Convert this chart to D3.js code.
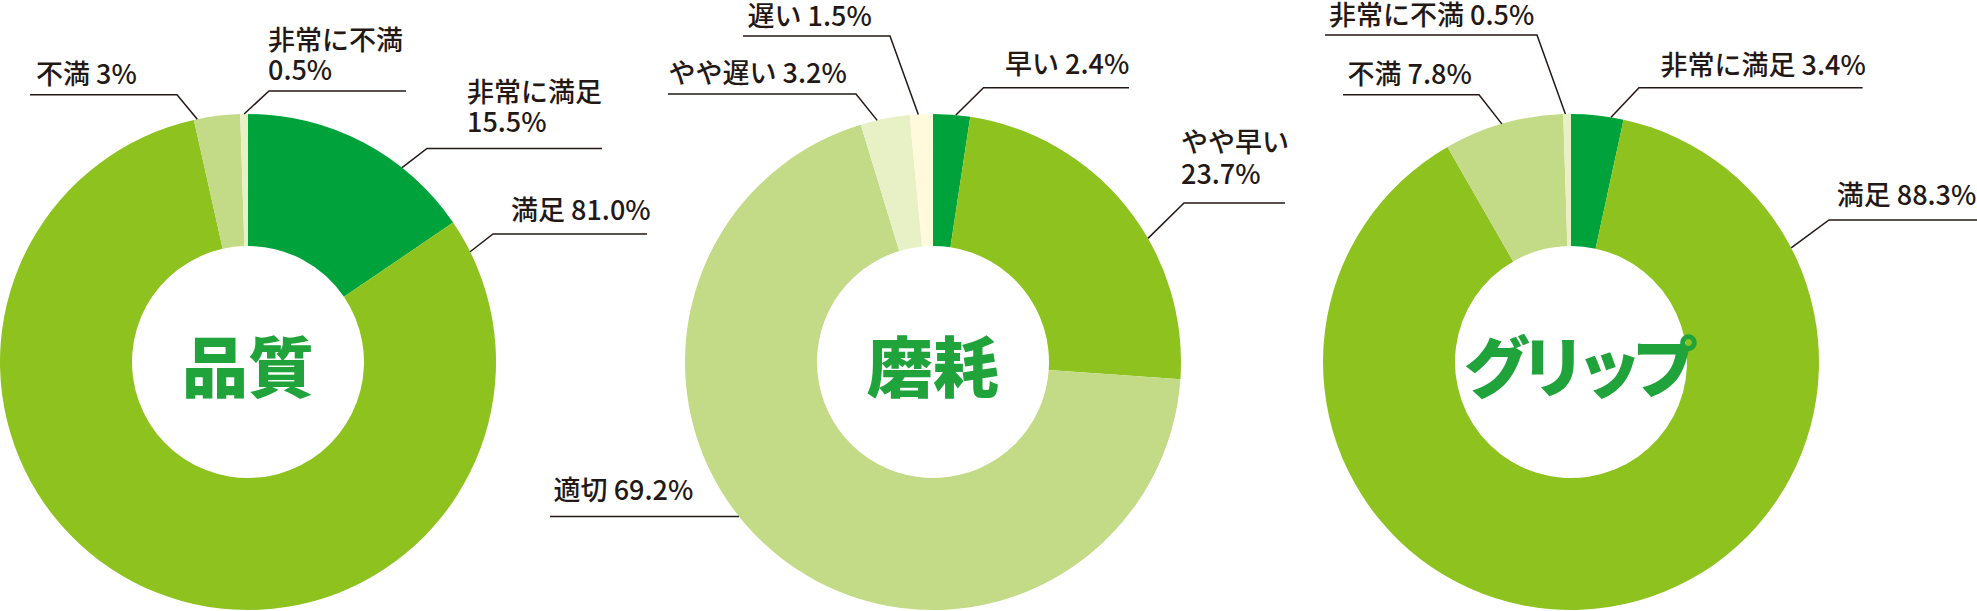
<!DOCTYPE html>
<html>
<head>
<meta charset="utf-8">
<script src="https://cdn.jsdelivr.net/npm/d3@7"></script>
<style>
  html, body { margin: 0; padding: 0; background: #fff; }
  text { font-family: "Noto Sans CJK JP", "Noto Sans", sans-serif; }
</style>
</head>
<body>
<div id="chart"></div>
<script>
// data
var titles = ["品質", "磨耗", "グリップ"];

var qualityNames = ["非常に満足", "満足", "不満", "非常に不満"];
var qualityValues = [15.5, 81.0, 3, 0.5];
var qualityLabels = ["15.5%", "81.0%", "3%", "0.5%"];

var wearNames = ["早い", "やや早い", "適切", "やや遅い", "遅い"];
var wearValues = [2.4, 23.7, 69.2, 3.2, 1.5];
var wearLabels = ["2.4%", "23.7%", "69.2%", "3.2%", "1.5%"];

var gripNames = ["非常に満足", "満足", "不満", "非常に不満"];
var gripValues = [3.4, 88.3, 7.8, 0.5];
var gripLabels = ["3.4%", "88.3%", "7.8%", "0.5%"];

// colours
var qualityColors = ["#00a33b", "#8dc21f", "#c3da86", "#e8f1c6"];
var wearColors = ["#00a33b", "#8dc21f", "#c3da86", "#e8f1c6", "#fffadc"];
var gripColors = ["#00a33b", "#8dc21f", "#c3da86", "#e8f1c6"];

var W = 1977, H = 611;
var R = 248, r = 116;
var ink = "#231815";

// label layout, one entry per slice, relative to the donut centre
// a = where the leader touches the ring (deg clockwise from 12 o'clock)
// ex,ey = elbow, lx = far end of the rule, tx = text x, ty = baseline(s)
var qualityLayout = [
  {a: 38.4, ex: 179, ey: -213.5, lx: 354, tx: 219, ty: [-260, -230], split: true},
  {a: 63.6, ex: 245, ey: -128, lx: 399, tx: 263, ty: [-142]},
  {a: 348.2, ex: -71, ey: -267.3, lx: -218, tx: -212, ty: [-278]},
  {a: 359.1, ex: 21, ey: -271, lx: 158, tx: 20, ty: [-312, -282], split: true}
];
var wearLayout = [
  {a: 5.3, ex: 50.5, ey: -274.3, lx: 196, tx: 72, ty: [-288]},
  {a: 60.1, ex: 251, ey: -159, lx: 352, tx: 248, ty: [-210, -178], split: true},
  {a: 231.5, ex: null, ey: 155, lx: -383, tx: -379.4, ty: [138]},
  {a: 347, ex: -77, ey: -268, lx: -265, tx: -264.5, ty: [-279.4]},
  {a: 356.6, ex: -43, ey: -326, lx: -190, tx: -185.5, ty: [-336]}
];
var gripLayout = [
  {a: 9.3, ex: 68, ey: -274.3, lx: 291.6, tx: 89.5, ty: [-287]},
  {a: 62.6, ex: 258, ey: -142, lx: 406, tx: 265.7, ty: [-157]},
  {a: 343.8, ex: -92, ey: -267.3, lx: -228, tx: -223.5, ty: [-278]},
  {a: 358.7, ex: -34, ey: -327, lx: -246, tx: -242, ty: [-337]}
];

var donuts = [
  {title: titles[0], names: qualityNames, values: qualityValues, labels: qualityLabels, colors: qualityColors, layout: qualityLayout, cx: 248, cy: 362, spacing: 0},
  {title: titles[1], names: wearNames, values: wearValues, labels: wearLabels, colors: wearColors, layout: wearLayout, cx: 933, cy: 362, spacing: 0},
  {title: titles[2], names: gripNames, values: gripValues, labels: gripLabels, colors: gripColors, layout: gripLayout, cx: 1571, cy: 362, spacing: -10}
];

var svg = d3.select("#chart").append("svg").attr("width", W).attr("height", H);

var pie = d3.pie().sort(null).value(function(d) { return d; });
var arc = d3.arc().innerRadius(r).outerRadius(R);
var rad = Math.PI / 180;

function ringPoint(deg) {
  return [R * Math.sin(deg * rad), -R * Math.cos(deg * rad)];
}

donuts.forEach(function(d) {
  var g = svg.append("g").attr("transform", "translate(" + d.cx + "," + d.cy + ")");
  var color = d3.scaleOrdinal().domain(d.names).range(d.colors);

  g.selectAll("path.slice")
    .data(pie(d.values))
    .enter().append("path")
    .attr("class", "slice")
    .attr("d", arc)
    .attr("fill", function(s, i) { return color(d.names[i]); });

  // leaders and rules
  d.layout.forEach(function(l, i) {
    var p = ringPoint(l.a);
    var elbow = l.ex === null ? p : [l.ex, l.ey];
    g.append("path")
      .attr("d", d3.line()([[l.lx, elbow[1]], elbow, p]))
      .attr("fill", "none")
      .attr("stroke", ink)
      .attr("stroke-width", 1.5);

    var lines = l.split ? [d.names[i], d.labels[i]] : [d.names[i] + " " + d.labels[i]];
    var t = g.append("text")
      .attr("fill", ink)
      .attr("font-size", 27)
      .attr("font-weight", 500);
    lines.forEach(function(s, k) {
      t.append("tspan").attr("x", l.tx).attr("y", l.ty[k]).text(s);
    });
  });

  g.append("text")
    .attr("text-anchor", "middle")
    .attr("y", 30)
    .attr("x", -d.spacing / 2)
    .attr("fill", "#1fa33a")
    .attr("font-size", 66)
    .attr("font-weight", 900)
    .attr("letter-spacing", d.spacing)
    .text(d.title);
});
</script>
</body>
</html>
